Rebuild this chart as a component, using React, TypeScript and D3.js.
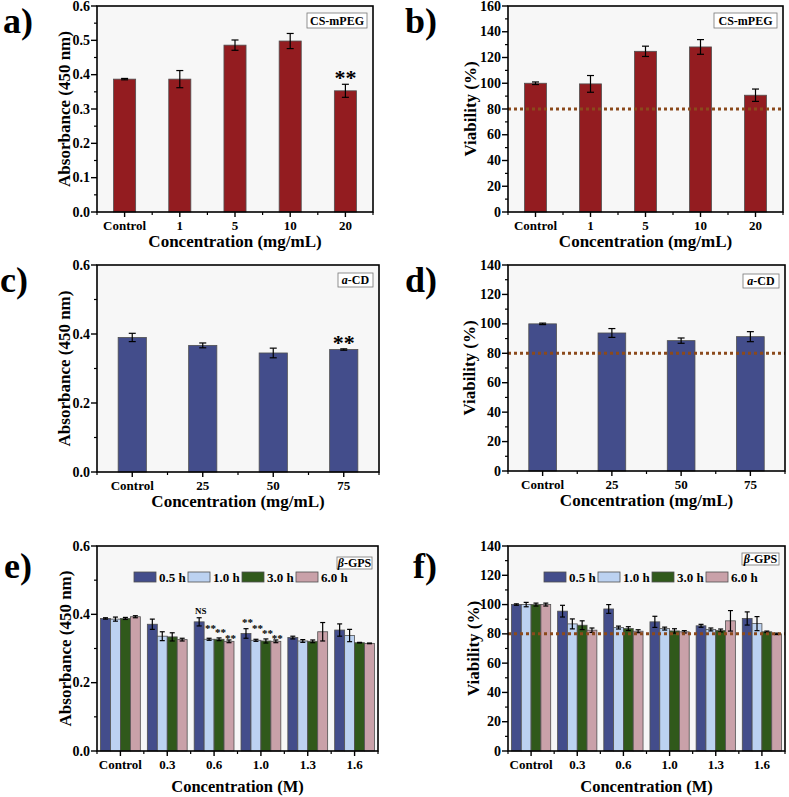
import React from 'react';
import * as d3 from 'd3';

const FONT = '"Liberation Serif", "Times New Roman", serif';

// ---------- data ----------
const csCats = ['Control', '1', '5', '10', '20'];
const csAbs = [0.387, 0.387, 0.486, 0.498, 0.353];
const csAbsErr = [0.002, 0.025, 0.015, 0.022, 0.019];
const csVia = [100, 99.5, 124.8, 128.2, 90.7];
const csViaErr = [1, 6.5, 4, 5.7, 4.8];

const cdCats = ['Control', '25', '50', '75'];
const cdAbs = [0.39, 0.367, 0.345, 0.355];
const cdAbsErr = [0.012, 0.007, 0.014, 0.002];
const cdVia = [100, 93.8, 88.6, 91.3];
const cdViaErr = [0.5, 3, 1.8, 3.4];

const gpsCats = ['Control', '0.3', '0.6', '1.0', '1.3', '1.6'];
const gpsSeries = ['0.5 h', '1.0 h', '3.0 h', '6.0 h'];
const gpsAbs05 = [0.388, 0.371, 0.378, 0.344, 0.332, 0.354];
const gpsAbs10 = [0.386, 0.336, 0.327, 0.324, 0.322, 0.338];
const gpsAbs30 = [0.388, 0.334, 0.327, 0.322, 0.321, 0.317];
const gpsAbs60 = [0.393, 0.326, 0.321, 0.321, 0.349, 0.315];
const gpsAbsErr05 = [0.002, 0.015, 0.012, 0.014, 0.004, 0.018];
const gpsAbsErr10 = [0.006, 0.013, 0.003, 0.003, 0.004, 0.018];
const gpsAbsErr30 = [0.003, 0.012, 0.004, 0.006, 0.004, 0.001];
const gpsAbsErr60 = [0.003, 0.004, 0.004, 0.004, 0.027, 0.001];

const gpsVia05 = [100, 95.5, 97, 88.2, 85.5, 90.5];
const gpsVia10 = [100, 86.8, 84.3, 83.6, 83, 87];
const gpsVia30 = [100, 85.9, 83.6, 82, 82.3, 81.4];
const gpsVia60 = [100, 82.5, 81.8, 81.4, 88.9, 80];
const gpsViaErr05 = [0.5, 4, 3, 3.8, 1, 4.5];
const gpsViaErr10 = [1.5, 3.4, 1, 1, 1, 4.8];
const gpsViaErr30 = [1, 3, 1.3, 1.5, 1, 0.5];
const gpsViaErr60 = [1, 1.5, 1, 0.8, 7, 0.5];

const absTicksFine = [0, 0.1, 0.2, 0.3, 0.4, 0.5, 0.6];
const absTicksCoarse = [0, 0.2, 0.4, 0.6];
const viaTicks160 = [0, 20, 40, 60, 80, 100, 120, 140, 160];
const viaTicks140 = [0, 20, 40, 60, 80, 100, 120, 140];
const threshold = 80;

// annotations: category, series index, label, y-value of baseline
const csAnnot = [{ cat: '20', s: 0, label: '**', y: 0.37 }];
const cdAnnot = [{ cat: '75', s: 0, label: '**', y: 0.355 }];
const gpsAnnot = [
  { cat: '0.6', s: 0, label: 'NS', y: 0.400 },
  { cat: '0.6', s: 1, label: '**', y: 0.348 },
  { cat: '0.6', s: 2, label: '**', y: 0.337 },
  { cat: '0.6', s: 3, label: '**', y: 0.320 },
  { cat: '1.0', s: 0, label: '**', y: 0.366 },
  { cat: '1.0', s: 1, label: '**', y: 0.348 },
  { cat: '1.0', s: 2, label: '**', y: 0.334 },
  { cat: '1.0', s: 3, label: '**', y: 0.320 },
];

const RED = '#931c20';
const NAVY = '#434d8b';
const LBLUE = '#bcd2f1';
const GREEN = '#30591b';
const PINK = '#c9a1a9';
const gpsColors = [NAVY, LBLUE, GREEN, PINK];

type Series = { name: string; color: string; values: number[]; errs: number[] };

type PanelProps = {
  left: number; right: number; top: number; bottom: number;
  cats: string[];
  series: Series[];
  yMax: number;
  ticks: number[];
  minorStep: number;
  fmt: (v: number) => string;
  ylabel: string;
  ylabelX: number;
  xlabel: string;
  xlabelDy: number;
  xlabelSize: number;
  box: React.ReactNode;
  boxW: number;
  boxH: number;
  boxDy: number;
  letter: string;
  letterX: number;
  letterY: number;
  groupFrac: number;
  capW: number;
  showThreshold?: boolean;
  annots?: { cat: string; s: number; label: string; y: number }[];
  annotSize?: number;
  legend?: boolean;
  legendDx?: number;
};

function Panel(p: PanelProps) {
  const x = d3.scalePoint<string>().domain(p.cats).range([p.left, p.right]).padding(0.5);
  const step = x.step();
  const y = d3.scaleLinear().domain([0, p.yMax]).range([p.bottom, p.top]);
  const nS = p.series.length;
  const groupW = step * p.groupFrac;
  const bw = groupW / nS;
  const barX = (cat: string, s: number) => (x(cat) as number) - groupW / 2 + s * bw;
  const minor = d3.range(0, p.yMax + 1e-9, p.minorStep).filter(
    (v) => !p.ticks.some((t) => Math.abs(t - v) < 1e-9)
  );
  const minorX = d3.range(0, p.cats.length + 1).map((i) => p.left + i * step);
  const midY = (p.top + p.bottom) / 2;
  const midX = (p.left + p.right) / 2;

  return (
    <g>
      <rect x={p.left} y={p.top} width={p.right - p.left} height={p.bottom - p.top} fill="#f7f7f7" />
      {p.series.map((s, si) =>
        p.cats.map((c, ci) => (
          <rect
            key={`b${si}-${ci}`}
            x={barX(c, si)}
            y={y(s.values[ci])}
            width={bw}
            height={p.bottom - y(s.values[ci])}
            fill={s.color}
            stroke="#505050"
            strokeWidth={0.8}
          />
        ))
      )}
      {p.series.map((s, si) =>
        p.cats.map((c, ci) => {
          const cx = barX(c, si) + bw / 2;
          const y1 = y(s.values[ci] + s.errs[ci]);
          const y2 = y(s.values[ci] - s.errs[ci]);
          return (
            <g key={`e${si}-${ci}`} stroke="#000" strokeWidth={1.2}>
              <line x1={cx} x2={cx} y1={y1} y2={y2} />
              <line x1={cx - p.capW / 2} x2={cx + p.capW / 2} y1={y1} y2={y1} />
              <line x1={cx - p.capW / 2} x2={cx + p.capW / 2} y1={y2} y2={y2} />
            </g>
          );
        })
      )}
      {p.showThreshold && (
        <line
          x1={p.left}
          x2={p.right}
          y1={y(threshold)}
          y2={y(threshold)}
          stroke="#8b4a1c"
          strokeWidth={3}
          strokeDasharray="3 3"
        />
      )}
      {(p.annots || []).map((a, i) => (
        <text
          key={`a${i}`}
          x={barX(a.cat, a.s) + bw / 2 + (nS > 1 ? 1.5 : 0)}
          y={y(a.y)}
          textAnchor="middle"
          fontFamily={FONT}
          fontWeight="bold"
          fill="#000"
          fontSize={a.label === 'NS' ? 9 : p.annotSize || 22}
        >
          {a.label}
        </text>
      ))}
      {/* frame */}
      <rect
        x={p.left}
        y={p.top}
        width={p.right - p.left}
        height={p.bottom - p.top}
        fill="none"
        stroke="#000"
        strokeWidth={1.6}
      />
      {/* y ticks */}
      {p.ticks.map((t) => (
        <g key={`yt${t}`}>
          <line x1={p.left - 6} x2={p.left} y1={y(t)} y2={y(t)} stroke="#000" strokeWidth={1.4} />
          <text
            x={p.left - 7}
            y={y(t) + 4.5}
            textAnchor="end"
            fontFamily={FONT}
            fontWeight="bold"
            fontSize={14}
          >
            {p.fmt(t)}
          </text>
        </g>
      ))}
      {minor.map((t) => (
        <line key={`ym${t}`} x1={p.left - 3} x2={p.left} y1={y(t)} y2={y(t)} stroke="#000" strokeWidth={1.2} />
      ))}
      {/* x ticks */}
      {p.cats.map((c) => (
        <g key={`xt${c}`}>
          <line x1={x(c)} x2={x(c)} y1={p.bottom} y2={p.bottom + 5} stroke="#000" strokeWidth={1.4} />
          <text
            x={x(c)}
            y={p.bottom + 18}
            textAnchor="middle"
            fontFamily={FONT}
            fontWeight="bold"
            fontSize={13}
          >
            {c}
          </text>
        </g>
      ))}
      {minorX.map((mx, i) => (
        <line key={`xm${i}`} x1={mx} x2={mx} y1={p.bottom} y2={p.bottom + 3} stroke="#000" strokeWidth={1.2} />
      ))}
      {/* axis titles */}
      <text
        transform={`translate(${p.ylabelX},${midY}) rotate(-90)`}
        textAnchor="middle"
        fontFamily={FONT}
        fontWeight="bold"
        fontSize={17}
      >
        {p.ylabel}
      </text>
      <text
        x={midX}
        y={p.bottom + p.xlabelDy}
        textAnchor="middle"
        fontFamily={FONT}
        fontWeight="bold"
        fontSize={p.xlabelSize}
      >
        {p.xlabel}
      </text>
      {/* box label */}
      <rect
        x={p.right - 6 - p.boxW}
        y={p.top + p.boxDy}
        width={p.boxW}
        height={p.boxH}
        fill="#fff"
        stroke="#777"
        strokeWidth={0.8}
      />
      <text
        x={p.right - 6 - p.boxW / 2}
        y={p.top + p.boxDy + p.boxH / 2 + 4.2}
        textAnchor="middle"
        fontFamily={FONT}
        fontWeight="bold"
        fontSize={12}
      >
        {p.box}
      </text>
      {/* legend */}
      {p.legend &&
        p.series.map((s, i) => {
          const lx = p.left + (p.legendDx || 36) + i * 54;
          const ly = p.top + 31;
          return (
            <g key={`lg${i}`}>
              <rect x={lx} y={ly - 5} width={22} height={10} fill={s.color} stroke="#505050" strokeWidth={0.8} />
              <text x={lx + 25} y={ly + 4.5} fontFamily={FONT} fontWeight="bold" fontSize={13}>
                {s.name}
              </text>
            </g>
          );
        })}
      {/* panel letter */}
      <text x={p.letterX} y={p.letterY} fontFamily={FONT} fontWeight="bold" fontSize={36}>
        {p.letter}
      </text>
    </g>
  );
}

const f1 = (v: number) => d3.format('.1f')(v);
const f0 = (v: number) => d3.format('d')(v);

export default function App() {
  const gpsAbsSeries: Series[] = [
    { name: gpsSeries[0], color: gpsColors[0], values: gpsAbs05, errs: gpsAbsErr05 },
    { name: gpsSeries[1], color: gpsColors[1], values: gpsAbs10, errs: gpsAbsErr10 },
    { name: gpsSeries[2], color: gpsColors[2], values: gpsAbs30, errs: gpsAbsErr30 },
    { name: gpsSeries[3], color: gpsColors[3], values: gpsAbs60, errs: gpsAbsErr60 },
  ];
  const gpsViaSeries: Series[] = [
    { name: gpsSeries[0], color: gpsColors[0], values: gpsVia05, errs: gpsViaErr05 },
    { name: gpsSeries[1], color: gpsColors[1], values: gpsVia10, errs: gpsViaErr10 },
    { name: gpsSeries[2], color: gpsColors[2], values: gpsVia30, errs: gpsViaErr30 },
    { name: gpsSeries[3], color: gpsColors[3], values: gpsVia60, errs: gpsViaErr60 },
  ];
  const cdBox = (
    <>
      <tspan fontStyle="italic">a</tspan>-CD
    </>
  );
  const gpsBox = (
    <>
      <tspan fontStyle="italic">β</tspan>-GPS
    </>
  );
  return (
    <svg
      width={789}
      height={797}
      style={{ position: 'absolute', left: 0, top: 0, background: '#fff' }}
    >
      <Panel
        left={97} right={373} top={6} bottom={212}
        cats={csCats}
        series={[{ name: 'CS-mPEG', color: RED, values: csAbs, errs: csAbsErr }]}
        yMax={0.6} ticks={absTicksFine} minorStep={0.05} fmt={f1}
        ylabel="Absorbance (450 nm)" ylabelX={70}
        xlabel="Concentration (mg/mL)" xlabelDy={35} xlabelSize={17}
        box="CS-mPEG" boxW={60} boxH={15} boxDy={7}
        letter="a)" letterX={3} letterY={33}
        groupFrac={0.4} capW={7}
        annots={csAnnot}
      />
      <Panel
        left={508} right={783} top={6} bottom={212}
        cats={csCats}
        series={[{ name: 'CS-mPEG', color: RED, values: csVia, errs: csViaErr }]}
        yMax={160} ticks={viaTicks160} minorStep={10} fmt={f0}
        ylabel="Viability (%)" ylabelX={476}
        xlabel="Concentration (mg/mL)" xlabelDy={35} xlabelSize={17}
        box="CS-mPEG" boxW={63} boxH={15} boxDy={7}
        letter="b)" letterX={405} letterY={33}
        groupFrac={0.4} capW={7}
        showThreshold
      />
      <Panel
        left={97} right={379} top={265} bottom={472}
        cats={cdCats}
        series={[{ name: 'a-CD', color: NAVY, values: cdAbs, errs: cdAbsErr }]}
        yMax={0.6} ticks={absTicksCoarse} minorStep={0.1} fmt={f1}
        ylabel="Absorbance (450 nm)" ylabelX={70}
        xlabel="Concentration (mg/mL)" xlabelDy={35} xlabelSize={17}
        box={cdBox} boxW={35} boxH={14} boxDy={8}
        letter="c)" letterX={0} letterY={292}
        groupFrac={0.4} capW={7}
        annots={cdAnnot}
      />
      <Panel
        left={508} right={785} top={265} bottom={471}
        cats={cdCats}
        series={[{ name: 'a-CD', color: NAVY, values: cdVia, errs: cdViaErr }]}
        yMax={140} ticks={viaTicks140} minorStep={10} fmt={f0}
        ylabel="Viability (%)" ylabelX={475}
        xlabel="Concentration (mg/mL)" xlabelDy={35} xlabelSize={17}
        box={cdBox} boxW={36} boxH={14} boxDy={9}
        letter="d)" letterX={405} letterY={292}
        groupFrac={0.4} capW={7}
        showThreshold
      />
      <Panel
        left={97} right={378} top={546} bottom={751}
        cats={gpsCats}
        series={gpsAbsSeries}
        yMax={0.6} ticks={absTicksCoarse} minorStep={0.1} fmt={f1}
        ylabel="Absorbance (450 nm)" ylabelX={71}
        xlabel="Concentration (M)" xlabelDy={41} xlabelSize={16.5}
        box={gpsBox} boxW={35} boxH={12} boxDy={11}
        letter="e)" letterX={4} letterY={578}
        groupFrac={0.85} capW={5}
        annots={gpsAnnot} annotSize={11}
        legend legendDx={37}
      />
      <Panel
        left={508} right={785} top={546} bottom={751}
        cats={gpsCats}
        series={gpsViaSeries}
        yMax={140} ticks={viaTicks140} minorStep={10} fmt={f0}
        ylabel="Viability (%)" ylabelX={479}
        xlabel="Concentration (M)" xlabelDy={41} xlabelSize={16.5}
        box={gpsBox} boxW={37} boxH={12} boxDy={7}
        letter="f)" letterX={413} letterY={578}
        groupFrac={0.85} capW={5}
        showThreshold
        legend legendDx={36}
      />
    </svg>
  );
}
